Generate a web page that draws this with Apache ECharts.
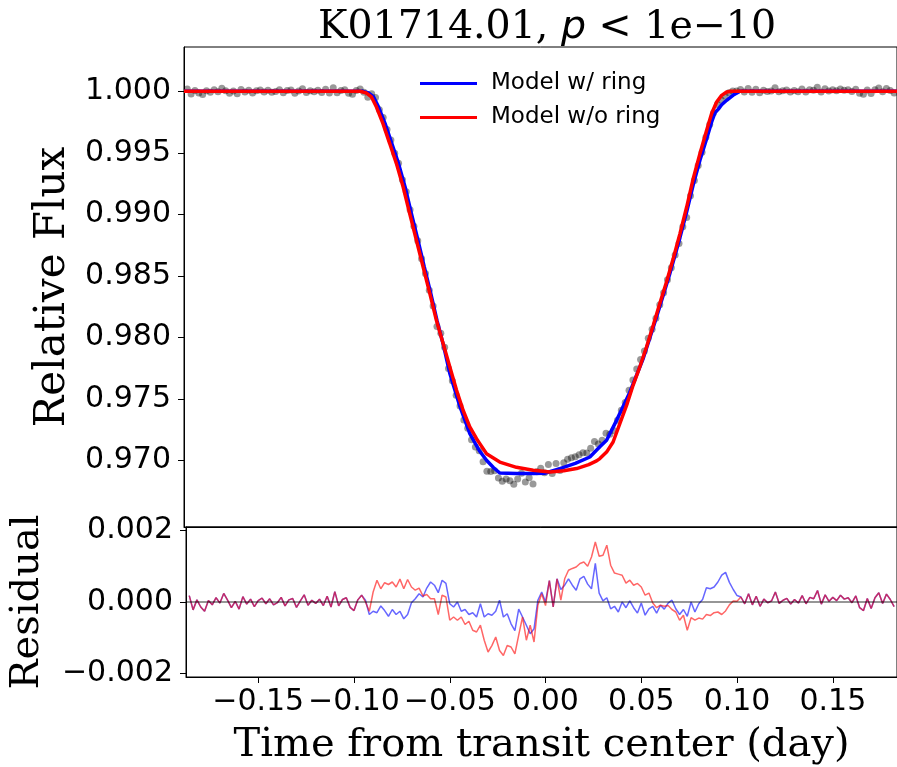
<!DOCTYPE html>
<html><head><meta charset="utf-8">
<script src="https://cdn.jsdelivr.net/npm/echarts@6/dist/echarts.min.js"></script>
<style>html,body{margin:0;padding:0;background:#fff}#chart{width:897px;height:767px}</style>
</head><body><div id="chart"></div><script>
// Phase-folded light curve of K01714.01: sample times (day from transit centre)
const time = [
-0.186,-0.184,-0.182,-0.180,-0.178,-0.176,-0.174,-0.172,-0.170,-0.168,
-0.166,-0.164,-0.162,-0.160,-0.158,-0.156,-0.154,-0.152,-0.150,-0.148,
-0.146,-0.144,-0.142,-0.140,-0.138,-0.136,-0.134,-0.132,-0.130,-0.128,
-0.126,-0.124,-0.122,-0.120,-0.118,-0.116,-0.114,-0.112,-0.110,-0.108,
-0.106,-0.104,-0.102,-0.100,-0.098,-0.096,
-0.094,-0.092,-0.090,-0.088,-0.086,-0.084,-0.082,-0.080,-0.078,-0.076,
-0.074,-0.072,-0.070,-0.068,-0.066,-0.064,-0.062,-0.060,-0.058,-0.056,
-0.054,-0.052,-0.050,-0.048,-0.046,-0.044,-0.042,-0.040,-0.038,-0.036,
-0.034,-0.032,-0.030,-0.028,-0.026,-0.024,-0.022,-0.020,-0.018,-0.016,
-0.014,-0.012,-0.010,-0.008,-0.006,-0.004,-0.002,0.000,
0.002,0.004,0.006,0.008,0.010,0.012,0.014,0.016,0.018,0.020,
0.022,0.024,0.026,0.028,0.030,0.032,0.034,0.036,0.038,0.040,
0.042,0.044,0.046,0.048,0.050,0.052,0.054,0.056,0.058,0.060,
0.062,0.064,0.066,0.068,0.070,0.072,0.074,0.076,0.078,0.080,
0.082,0.084,0.086,0.088,0.090,0.092,0.094,0.096,0.098,
0.100,0.102,0.104,0.106,0.108,0.110,0.112,0.114,0.116,0.118,
0.120,0.122,0.124,0.126,0.128,0.130,0.132,0.134,0.136,0.138,
0.140,0.142,0.144,0.146,0.148,0.150,0.152,0.154,0.156,0.158,
0.160,0.162,0.164,0.166,0.168,0.170,0.172,0.174,0.176,0.178,
0.180,0.182
];

// Relative flux at each sample time
const flux = [
1.00018,0.99978,1.00006,0.99986,0.99974,1.00004,0.99992,1.00012,0.99997,1.00024,
1.00005,0.99984,1.00002,0.99980,1.00015,0.99994,1.00008,0.99987,1.00004,1.00011,
0.99995,1.00009,0.99992,0.99998,1.00013,0.99989,1.00006,1.00010,0.99985,1.00003,
1.00020,0.99991,1.00005,0.99996,1.00008,0.99990,1.00016,0.99986,1.00029,0.99989,
1.00007,1.00012,0.99985,0.99976,1.00006,1.00019,
0.99992,0.99951,0.99979,0.99949,0.99849,0.99786,0.99689,0.99603,0.99496,0.99416,
0.99281,0.99183,0.99036,0.98903,0.98785,0.98639,0.98519,0.98383,0.98255,0.98087,
0.98033,0.97920,0.97746,0.97646,0.97529,0.97441,0.97328,0.97260,0.97168,0.97108,
0.97078,0.96989,0.96912,0.96910,0.96915,0.96857,0.96830,0.96848,0.96834,0.96805,
0.96848,0.96894,0.96823,0.96859,0.96807,0.96907,0.96935,0.96899,
0.96966,0.96893,0.96974,0.96917,0.96980,0.97009,0.97020,0.97029,0.97045,0.97062,
0.97060,0.97098,0.97154,0.97133,0.97163,0.97221,0.97211,0.97243,0.97325,0.97407,
0.97470,0.97570,0.97652,0.97743,0.97820,0.97889,0.97992,0.98065,0.98154,0.98265,
0.98363,0.98467,0.98565,0.98670,0.98763,0.98899,0.98974,0.99151,0.99274,0.99396,
0.99505,0.99626,0.99729,0.99825,0.99893,0.99930,0.99961,0.99989,1.00003,
1.00002,1.00014,0.99995,1.00023,0.99992,1.00016,0.99988,1.00008,0.99998,1.00003,
1.00028,0.99996,1.00005,1.00010,0.99994,1.00007,0.99997,1.00018,0.99995,1.00013,
1.00009,1.00032,0.99994,1.00020,1.00002,1.00013,1.00004,1.00019,1.00008,1.00012,
0.99998,1.00017,0.99984,0.99976,1.00010,0.99982,1.00012,1.00026,0.99996,1.00022,
1.00007,0.99987
];

// Residuals (ppm) after subtracting the ringed-planet model
const residRingPpm = [
180,-220,60,-140,-260,40,-80,120,-30,240,
50,-160,20,-200,150,-60,80,-130,40,110,
-50,90,-80,-20,130,-110,60,100,-150,30,
200,-90,50,-40,80,-100,160,-140,290,-110,
70,120,-150,-240,60,190,
50,-350,-260,-300,-110,-240,-400,-210,-350,-260,
-470,-350,-20,90,230,140,390,560,470,260,
610,520,-50,-140,0,-260,-210,-350,-300,-420,
-50,-420,-330,-370,-260,50,-420,-330,-610,-800,
-200,-420,-650,-890,-750,50,280,0,
600,-140,650,350,470,650,470,330,650,720,
500,370,1080,250,30,120,-190,-120,-280,0,
-160,30,-160,-310,-30,-370,-190,-120,-310,-90,
-200,-30,50,-190,-350,-210,-400,0,-280,-50,
70,400,370,420,560,750,830,550,350,
180,140,-50,230,-80,160,-120,80,-20,30,
280,-40,50,100,-60,70,-30,180,-50,130,
90,320,-60,200,20,130,40,190,80,120,
-20,170,-160,-240,100,-180,120,260,-40,220,
70,-130
];

// Residuals (ppm) after subtracting the ringless-planet model
const residNoRingPpm = [
180,-220,60,-140,-260,40,-80,120,-30,240,
50,-160,20,-200,150,-60,80,-130,40,110,
-50,90,-80,-20,130,-110,60,100,-150,30,
200,-90,50,-40,80,-100,160,-140,290,-110,
70,120,-150,-240,60,190,
0,-260,280,610,370,540,490,560,420,640,
370,630,420,330,390,170,210,90,90,-350,
190,140,-510,-420,-510,-420,-630,-540,-790,-840,
-650,-1070,-1400,-1220,-980,-1360,-1500,-1220,-1260,-1450,
-930,-420,-1070,-650,-1120,-90,230,-100,
600,-140,650,50,650,890,940,980,1080,1120,
1000,1260,1680,1280,1310,1590,1030,810,780,750,
530,610,470,520,420,190,250,-30,-160,-90,
-120,-100,-210,-280,-510,-370,-790,-440,-510,-450,
-480,-350,-380,-300,-280,-350,-250,-80,30,
20,140,-50,230,-80,160,-120,80,-20,30,
280,-40,50,100,-60,70,-30,180,-50,130,
90,320,-60,200,20,130,40,190,80,120,
-20,170,-160,-240,100,-180,120,260,-40,220,
70,-130
];

// Best-fit model with a ring
const modelRingTime = [
-0.1877,-0.0950,-0.0915,-0.0890,-0.0864,-0.0830,-0.0795,-0.0760,-0.0726,-0.0693,
-0.0659,-0.0626,-0.0592,-0.0560,-0.0527,-0.0493,-0.0441,-0.0389,-0.0340,-0.0302,
-0.0265,-0.0233,-0.0146,-0.0059,0.0000,0.0080,0.0160,0.0236,0.0288,0.0323,
0.0375,0.0443,0.0512,0.0582,0.0651,0.0705,0.0740,0.0774,0.0809,0.0844,
0.0870,0.0887,0.0905,0.0922,0.0948,0.0981,0.1017,0.1835
];
const modelRingFlux = [
1.00000,1.00000,0.99986,0.99954,0.99872,0.99737,0.99575,0.99412,0.99222,0.99006,
0.98789,0.98572,0.98355,0.98138,0.97940,0.97705,0.97440,0.97217,0.97080,0.97000,
0.96940,0.96897,0.96892,0.96892,0.96895,0.96933,0.96975,0.97027,0.97110,0.97163,
0.97325,0.97550,0.97820,0.98160,0.98510,0.98810,0.99020,0.99240,0.99440,0.99615,
0.99750,0.99825,0.99855,0.99890,0.99927,0.99967,1.00000,1.00000
];

// Best-fit model without a ring
const modelNoRingTime = [
-0.1877,-0.0960,-0.0927,-0.0901,-0.0875,-0.0841,-0.0806,-0.0771,-0.0736,-0.0702,
-0.0667,-0.0632,-0.0597,-0.0563,-0.0528,-0.0493,-0.0458,-0.0424,-0.0389,-0.0354,
-0.0337,-0.0302,-0.0233,-0.0146,-0.0059,0.0028,0.0100,0.0167,0.0230,0.0271,
0.0288,0.0323,0.0357,0.0392,0.0427,0.0461,0.0496,0.0531,0.0566,0.0600,
0.0635,0.0670,0.0705,0.0740,0.0774,0.0809,0.0844,0.0870,0.0896,0.0922,
0.0948,0.0970,0.1835
];
const modelNoRingFlux = [
1.00000,1.00000,0.99986,0.99954,0.99872,0.99737,0.99575,0.99412,0.99222,0.99006,
0.98789,0.98572,0.98355,0.98138,0.97949,0.97759,0.97569,0.97407,0.97271,0.97176,
0.97136,0.97054,0.96986,0.96943,0.96919,0.96905,0.96915,0.96933,0.96965,0.96995,
0.97014,0.97067,0.97149,0.97298,0.97447,0.97610,0.97759,0.97921,0.98098,0.98274,
0.98450,0.98640,0.98843,0.99059,0.99290,0.99493,0.99683,0.99819,0.99913,0.99967,
0.99994,1.00000,1.00000
];

// Tick positions
const timeTicks = [-0.15, -0.10, -0.05, 0.00, 0.05, 0.10, 0.15];
const fluxTicks = [0.970, 0.975, 0.980, 0.985, 0.990, 0.995, 1.000];
const residTicks = [-0.002, 0.000, 0.002];

const PPM = 1e-6;
const zip = (xs, ys, k) => xs.map((x, i) => [x, ys[i] * (k || 1)]);
const minus = '\u2212';
const signed = (v, d) => (v < -1e-12 ? minus : '') + Math.abs(v).toFixed(d);

const SANS = 'DejaVu Sans';
const SERIF = 'DejaVu Serif';
const tickFont = { fontFamily: SANS, fontSize: 30, color: '#000' };
const axisLine = { show: true, onZero: false, lineStyle: { color: '#000', width: 1 } };

const chart = echarts.init(document.getElementById('chart'));
chart.setOption({
  animation: false,
  backgroundColor: '#fff',
  title: {
    text: '{s|K01714.01, }{i|p}{m| < }{s|1e' + minus + '10}',
    left: 542, top: 3, textAlign: 'center',
    textStyle: {
      fontWeight: 'normal',
      rich: {
        s: { fontFamily: SERIF, fontSize: 39.5, fontWeight: 'normal', color: '#000' },
        i: { fontFamily: SANS, fontStyle: 'italic', fontSize: 39.5, fontWeight: 'normal', color: '#000' },
        m: { fontFamily: SANS, fontSize: 39.5, fontWeight: 'normal', color: '#000' }
      }
    }
  },
  legend: {
    data: ['Model w/ ring', 'Model w/o ring'],
    orient: 'vertical', left: 415, top: 67,
    icon: 'rect', itemWidth: 57, itemHeight: 3, itemGap: 11,
    textStyle: { fontFamily: SANS, fontSize: 23, color: '#000', lineHeight: 23, padding: [0, 0, 0, 9] }
  },
  grid: [
    { left: 184, right: 0, top: 47, height: 480, show: true, borderColor: '#000', borderWidth: 1 },
    { left: 184, right: 0, top: 527, height: 150, show: true, borderColor: '#000', borderWidth: 1 }
  ],
  xAxis: [
    { type: 'value', gridIndex: 0, min: -0.1877, max: 0.1835,
      axisLine, axisTick: { show: false }, axisLabel: { show: false }, splitLine: { show: false } },
    { type: 'value', gridIndex: 1, min: -0.1877, max: 0.1835,
      axisLine,
      axisTick: { show: true, length: 6, customValues: timeTicks, lineStyle: { color: '#000' } },
      axisLabel: { ...tickFont, margin: 10, customValues: timeTicks, formatter: v => signed(v, 2) },
      splitLine: { show: false },
      name: 'Time from transit center (day)', nameLocation: 'middle', nameGap: 49,
      nameTextStyle: { fontFamily: SERIF, fontSize: 40, color: '#000' } }
  ],
  yAxis: [
    { type: 'value', gridIndex: 0, min: 0.96458, max: 1.0036,
      axisLine,
      axisTick: { show: true, length: 6, customValues: fluxTicks, lineStyle: { color: '#000' } },
      axisLabel: { ...tickFont, margin: 13, customValues: fluxTicks, formatter: v => v.toFixed(3) },
      splitLine: { show: false },
      name: 'Relative Flux', nameLocation: 'middle', nameGap: 108, nameRotate: 90,
      nameTextStyle: { fontFamily: SERIF, fontSize: 42, color: '#000' } },
    { type: 'value', gridIndex: 1, min: -0.0021, max: 0.0021,
      axisLine,
      axisTick: { show: true, length: 6, customValues: residTicks, lineStyle: { color: '#000' } },
      axisLabel: { ...tickFont, margin: 13, customValues: residTicks, formatter: v => signed(v, 3) },
      splitLine: { show: false },
      name: 'Residual', nameLocation: 'middle', nameGap: 138, nameRotate: 90,
      nameTextStyle: { fontFamily: SERIF, fontSize: 40, color: '#000' } }
  ],
  series: [
    { name: 'Kepler data', type: 'scatter', xAxisIndex: 0, yAxisIndex: 0,
      data: zip(time, flux), symbolSize: 7,
      itemStyle: { color: '#000', opacity: 0.4 }, z: 1 },
    { name: 'Model w/ ring', type: 'line', xAxisIndex: 0, yAxisIndex: 0,
      data: zip(modelRingTime, modelRingFlux), showSymbol: false, symbol: 'none',
      lineStyle: { color: '#0000ff', width: 3.5 }, itemStyle: { color: '#0000ff' }, z: 2 },
    { name: 'Model w/o ring', type: 'line', xAxisIndex: 0, yAxisIndex: 0,
      data: zip(modelNoRingTime, modelNoRingFlux), showSymbol: false, symbol: 'none',
      lineStyle: { color: '#ff0000', width: 3.5 }, itemStyle: { color: '#ff0000' }, z: 3 },
    { name: 'Residual w/ ring', type: 'line', xAxisIndex: 1, yAxisIndex: 1,
      data: zip(time, residRingPpm, PPM), symbol: 'none',
      lineStyle: { color: '#0000ff', width: 1.5, opacity: 0.6 }, z: 2,
      markLine: { silent: true, symbol: 'none', label: { show: false },
        lineStyle: { color: '#000', width: 1.5, type: 'solid', opacity: 0.55 },
        data: [{ yAxis: 0 }] } },
    { name: 'Residual w/o ring', type: 'line', xAxisIndex: 1, yAxisIndex: 1,
      data: zip(time, residNoRingPpm, PPM), symbol: 'none',
      lineStyle: { color: '#ff0000', width: 1.5, opacity: 0.6 }, z: 3 }
  ]
});
</script></body></html>
